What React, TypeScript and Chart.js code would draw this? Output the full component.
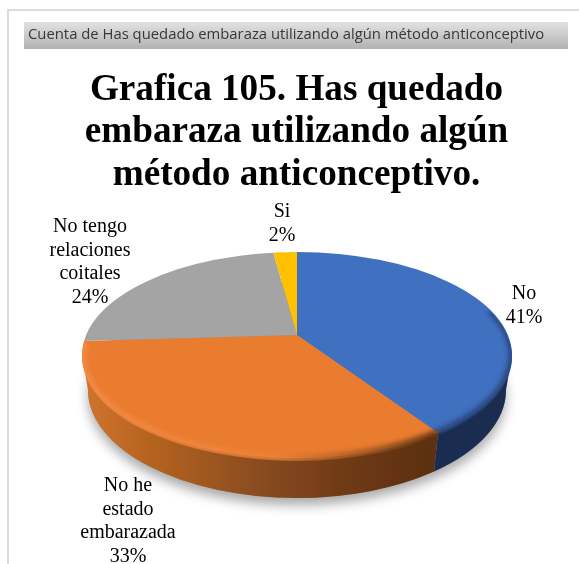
import React, { useEffect, useRef } from "react";
import { Chart, registerables } from "chart.js";

Chart.register(...registerables);

const categories = ["No", "No he estado embarazada", "No tengo relaciones coitales", "Si"];
const percentages = [41, 33, 24, 2];
const labelLines = [["No", "41%"], ["No he", "estado", "embarazada", "33%"], ["No tengo", "relaciones", "coitales", "24%"], ["Si", "2%"]];
const topColors = ["#4070c0", "#ea7c30", "#a4a4a4", "#ffc000"];
const titleLines = ["Grafica 105. Has quedado", "embaraza utilizando algún", "método anticonceptivo."];
const filterCaption = "Cuenta de Has quedado embaraza utilizando algún método anticonceptivo";

// Where the tilted disc sits on the canvas.
const APEX = { x: 297, y: 335 };
const TILT = 0.44;
const TOP_RIM = { cx: 297, cy: 355, rx: 215, ry: 103 };
const BASE_RIM = { cx: 297, cy: 390, rx: 209, ry: 108 };
const LABEL_ANCHORS = [
  { x: 524, y: 294 },
  { x: 128, y: 486 },
  { x: 90, y: 227 },
  { x: 282, y: 212 },
];

// Parametric angle on the top rim hit by a slice edge leaving the apex.
function rimAngle(a: number) {
  const c = Math.cos(a);
  const s = TILT * Math.sin(a);
  const d = TOP_RIM.cy - APEX.y;
  const A = (c * c) / (TOP_RIM.rx * TOP_RIM.rx) + (s * s) / (TOP_RIM.ry * TOP_RIM.ry);
  const B = (-2 * s * d) / (TOP_RIM.ry * TOP_RIM.ry);
  const C = (d * d) / (TOP_RIM.ry * TOP_RIM.ry) - 1;
  const t = (-B + Math.sqrt(B * B - 4 * A * C)) / (2 * A);
  return Math.atan2((t * s - d) / TOP_RIM.ry, (t * c) / TOP_RIM.rx);
}

function wallPath(ctx: CanvasRenderingContext2D, from: number, to: number) {
  ctx.beginPath();
  ctx.ellipse(TOP_RIM.cx, TOP_RIM.cy, TOP_RIM.rx, TOP_RIM.ry, 0, from, to, false);
  ctx.ellipse(BASE_RIM.cx, BASE_RIM.cy, BASE_RIM.rx, BASE_RIM.ry, 0, to, from, true);
  ctx.closePath();
}

const rimSpan = (meta: any, i: number): [number, number] => {
  const arc = meta.data[i];
  let a = rimAngle(arc.startAngle);
  let b = rimAngle(arc.endAngle);
  if (a < -Math.PI / 2) a += Math.PI * 2;
  if (b < -Math.PI / 2) b += Math.PI * 2;
  return [a, b];
};

const frontSpan = (meta: any, i: number): [number, number] | null => {
  const [a, b] = rimSpan(meta, i);
  const from = Math.max(a, 0);
  const to = Math.min(b, Math.PI);
  return to > from ? [from, to] : null;
};

const disc3d = {
  id: "disc3d",
  beforeDraw(chart: any) {
    const ctx: CanvasRenderingContext2D = chart.ctx;
    ctx.save();
    ctx.fillStyle = "#ffffff";
    ctx.fillRect(0, 0, chart.width, chart.height);

    // Panel outline
    ctx.strokeStyle = "#dcdcdc";
    ctx.lineWidth = 2;
    ctx.beginPath();
    ctx.moveTo(8, 564);
    ctx.lineTo(8, 10);
    ctx.lineTo(579, 10);
    ctx.stroke();

    // Field caption bar
    const bar = ctx.createLinearGradient(0, 22, 0, 49);
    bar.addColorStop(0, "#e2e2e2");
    bar.addColorStop(1, "#b2b2b2");
    ctx.fillStyle = bar;
    ctx.fillRect(24, 22, 544, 27);
    ctx.fillStyle = "#383838";
    ctx.font = "14.84px 'Open Sans'";
    ctx.textBaseline = "middle";
    ctx.textAlign = "left";
    ctx.fillText(filterCaption, 28, 35);
    ctx.restore();
  },
  beforeDatasetsDraw(chart: any) {
    const ctx: CanvasRenderingContext2D = chart.ctx;
    const meta = chart.getDatasetMeta(0);
    ctx.save();

    // Soft shadow under the base
    ctx.save();
    ctx.shadowColor = "rgba(0,0,0,0.34)";
    ctx.shadowBlur = 12;
    ctx.shadowOffsetY = 7;
    ctx.fillStyle = "#8a8a8a";
    ctx.beginPath();
    ctx.ellipse(BASE_RIM.cx, BASE_RIM.cy, BASE_RIM.rx, BASE_RIM.ry, 0, 0, Math.PI * 2);
    ctx.fill();
    ctx.restore();

    // Side wall of the two front slices
    const blueSpan = frontSpan(meta, 0);
    const orangeSpan = frontSpan(meta, 1);
    if (blueSpan) {
      ctx.fillStyle = "#1a2d50";
      wallPath(ctx, blueSpan[0], blueSpan[1]);
      ctx.fill();
    }
    if (orangeSpan) {
      const g = ctx.createLinearGradient(85, 0, 430, 0);
      g.addColorStop(0, "#d0742e");
      g.addColorStop(0.2, "#b4621f");
      g.addColorStop(0.5, "#8a4c20");
      g.addColorStop(0.75, "#703a16");
      g.addColorStop(1, "#5c3010");
      ctx.fillStyle = g;
      wallPath(ctx, orangeSpan[0], orangeSpan[1]);
      ctx.fill();
    }

    // Top face: the arcs are stretched from the apex and cut at the rim
    ctx.beginPath();
    ctx.ellipse(TOP_RIM.cx, TOP_RIM.cy, TOP_RIM.rx, TOP_RIM.ry, 0, 0, Math.PI * 2);
    ctx.clip();
    const first = meta.data[0];
    ctx.translate(APEX.x, APEX.y);
    ctx.scale(1, TILT);
    ctx.translate(-first.x, -first.y);
  },
  afterDatasetsDraw(chart: any) {
    const ctx: CanvasRenderingContext2D = chart.ctx;
    const meta = chart.getDatasetMeta(0);
    ctx.restore();

    // Bevel along the rim
    const bevel = (from: number, to: number, paint: string | CanvasGradient, width: number) => {
      ctx.save();
      ctx.beginPath();
      ctx.ellipse(TOP_RIM.cx, TOP_RIM.cy + 2, TOP_RIM.rx, TOP_RIM.ry + 1, 0, 0, Math.PI * 2);
      ctx.clip();
      ctx.filter = "blur(2.5px)";
      ctx.strokeStyle = paint;
      ctx.lineWidth = width;
      ctx.beginPath();
      ctx.ellipse(TOP_RIM.cx, TOP_RIM.cy, TOP_RIM.rx, TOP_RIM.ry, 0, from, to);
      ctx.stroke();
      ctx.restore();
    };
    const blue = rimSpan(meta, 0);
    const orange = rimSpan(meta, 1);
    bevel(-0.45, blue[1], "#28457a", 7);
    const warm = ctx.createLinearGradient(85, 0, 432, 0);
    warm.addColorStop(0, "#f48c45");
    warm.addColorStop(0.55, "#ec8238");
    warm.addColorStop(0.78, "#a95c24");
    warm.addColorStop(1, "#663613");
    bevel(orange[0], orange[1], warm, 7);

    // Value labels
    ctx.save();
    ctx.fillStyle = "#000000";
    ctx.font = "20px 'Liberation Serif'";
    ctx.textAlign = "center";
    ctx.textBaseline = "middle";
    labelLines.forEach((lines, i) => {
      lines.forEach((line, j) => {
        ctx.fillText(line, LABEL_ANCHORS[i].x, LABEL_ANCHORS[i].y + j * 23.6);
      });
    });
    ctx.restore();
  },
};

export default function App() {
  const ref = useRef<HTMLCanvasElement>(null);
  useEffect(() => {
    const chart = new Chart(ref.current!, {
      type: "pie",
      data: {
        labels: categories,
        datasets: [
          {
            data: percentages,
            backgroundColor: topColors,
            borderWidth: 0,
            clip: false,
          } as any,
        ],
      },
      options: {
        animation: false,
        responsive: false,
        radius: 320,
        layout: { padding: { left: 14, top: 69 } },
        plugins: {
          legend: { display: false },
          tooltip: { enabled: false },
          title: {
            display: true,
            text: titleLines,
            color: "#000000",
            font: { family: "'Liberation Serif'", size: 37.2, weight: "bold", lineHeight: 1.145 },
            padding: { top: 0, bottom: 0 },
          },
        },
      } as any,
      plugins: [disc3d],
    });
    return () => chart.destroy();
  }, []);
  return (
    <canvas
      ref={ref}
      width={579}
      height={564}
      style={{ position: "absolute", left: 0, top: 0, display: "block" }}
    />
  );
}
